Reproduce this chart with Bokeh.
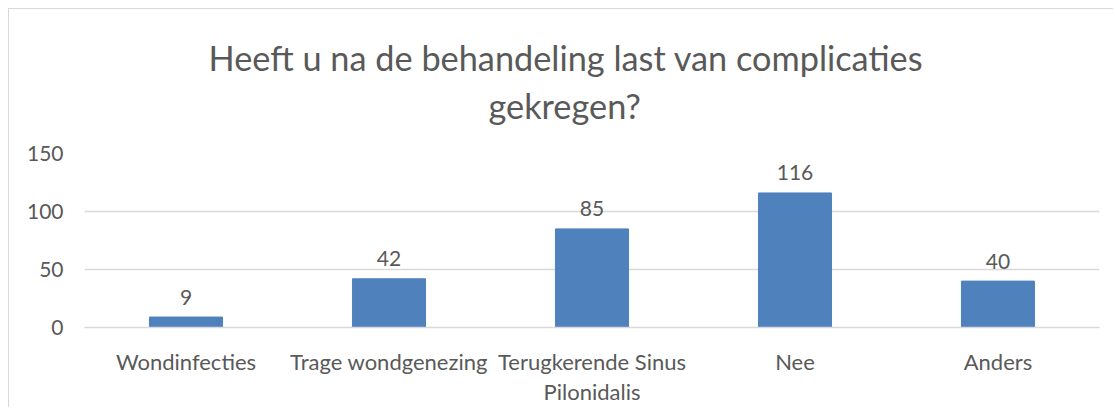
from bokeh.plotting import figure
from bokeh.models import Range1d, FixedTicker, Title, CategoricalAxis, CustomJSTickFormatter
from bokeh.core.properties import value
from bokeh.embed import file_html
from bokeh.resources import INLINE

categories = ["Wondinfecties", "Trage wondgenezing", "Terugkerende Sinus Pilonidalis", "Nee", "Anders"]
counts = [9, 42, 85, 116, 40]
y_ticks = [0, 50, 100, 150]
title_lines = ["Heeft u na de behandeling last van complicaties", "gekregen?"]

FONT = "Lato"
TXT = "#595959"
GRID = "#d9d9d9"
BAR = "#4f81bd"


def wrap(label, limit=20):
    if len(label) <= limit:
        return [label]
    words = label.split(" ")
    lines, cur = [], ""
    for w in words:
        trial = (cur + " " + w).strip()
        if len(trial) > limit and cur:
            lines.append(cur)
            cur = w
        else:
            cur = trial
    lines.append(cur)
    return lines


wrapped = [wrap(c) for c in categories]
first_lines = [w[0] for w in wrapped]
second_lines = [w[1] if len(w) > 1 else "" for w in wrapped]

JS = "const i = cats.indexOf(tick); return i >= 0 ? texts[i] : tick;"

p = figure(x_range=categories, y_range=Range1d(0, 150),
           frame_width=1015, frame_height=174,
           min_border_left=75, min_border_right=14, min_border_top=144, min_border_bottom=60,
           output_backend="svg", toolbar_location=None, tools="")
p.styles = {"margin-left": "8px", "margin-top": "8px",
            "border-top": "1px solid #d9d9d9", "border-left": "1px solid #d9d9d9"}
p.outline_line_color = None
p.background_fill_color = "white"
p.border_fill_color = "white"

p.vbar(x=categories, top=counts, width=0.36, color=BAR)
p.text(x=categories, y=counts, text=[str(c) for c in counts],
       text_align="center", text_baseline="alphabetic", y_offset=-20,
       text_font=value(FONT), text_font_size="21px", text_color=TXT)

p.ygrid.ticker = FixedTicker(ticks=y_ticks)
p.ygrid.grid_line_color = GRID
p.ygrid.grid_line_width = 1.5
p.xgrid.grid_line_color = None

p.yaxis.ticker = FixedTicker(ticks=y_ticks)
p.yaxis.axis_line_color = None
p.yaxis.major_tick_line_color = None
p.yaxis.minor_tick_line_color = None
p.yaxis.major_label_standoff = 15
p.yaxis.major_label_text_font = FONT
p.yaxis.major_label_text_font_size = "21px"
p.yaxis.major_label_text_color = TXT

xa = p.xaxis[0]
xa.axis_line_color = GRID
xa.axis_line_width = 1.5
xa.major_tick_line_color = None
xa.minor_tick_line_color = None
xa.major_label_standoff = 14
xa.major_label_text_font = FONT
xa.major_label_text_font_size = "22px"
xa.major_label_text_color = TXT
xa.formatter = CustomJSTickFormatter(args=dict(cats=categories, texts=first_lines), code=JS)

xb = CategoricalAxis(axis_line_color=None, major_tick_line_color=None, minor_tick_line_color=None,
                     major_label_standoff=-6, major_label_text_font=FONT,
                     major_label_text_font_size="22px", major_label_text_color=TXT,
                     formatter=CustomJSTickFormatter(args=dict(cats=categories, texts=second_lines), code=JS))
p.add_layout(xb, "below")

spacer = Title(text=" ", text_font_size="1px", standoff=22, text_color="white")
t2 = Title(text=title_lines[1], align="left", offset=404, text_font=FONT,
           text_font_size="34.3px", text_color=TXT, text_font_style="normal", standoff=6)
t1 = Title(text=title_lines[0], align="left", offset=124, text_font=FONT,
           text_font_size="34.3px", text_color=TXT, text_font_style="normal", standoff=4)
p.add_layout(spacer, "above")
p.add_layout(t2, "above")
p.add_layout(t1, "above")

open("out.html", "w").write(file_html(p, INLINE))
